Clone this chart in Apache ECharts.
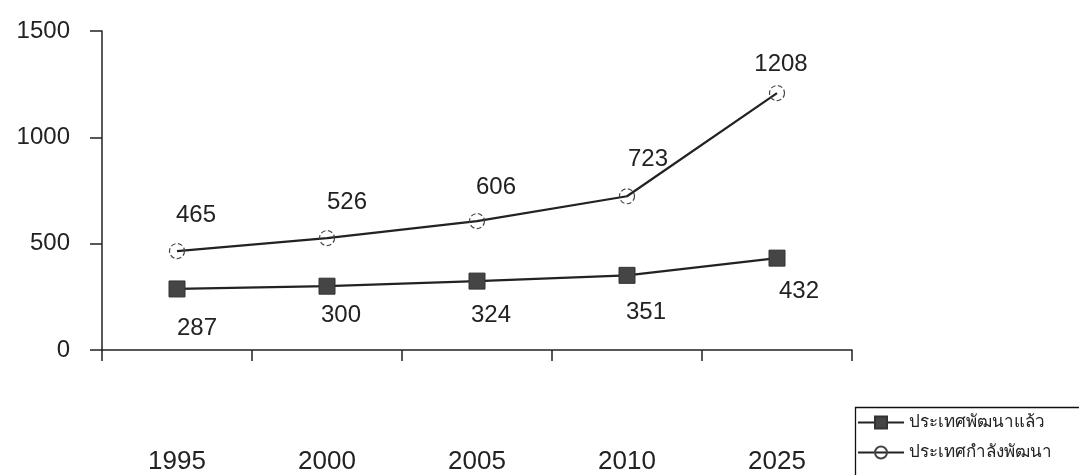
<!DOCTYPE html>
<html>
<head>
<meta charset="utf-8">
<script src="https://cdn.jsdelivr.net/npm/echarts@6/dist/echarts.min.js"></script>
<style>
  html, body { margin: 0; padding: 0; background: #fff; overflow: hidden; }
  #chart { width: 100vw; height: 100vh; }
</style>
</head>
<body>
<div id="chart"></div>
<script>
// Years on the horizontal axis
const years = ['1995', '2000', '2005', '2010', '2025'];
// Developed countries
const developedName = 'ประเทศพัฒนาแล้ว';
const developed = [287, 300, 324, 351, 432];
// Developing countries
const developingName = 'ประเทศกำลังพัฒนา';
const developing = [465, 526, 606, 723, 1208];
// Value axis ticks
const yMin = 0, yMax = 1500, yStep = 500;

// Label placement around each point (pixels from the point centre)
const developedLabelShift = [[20, 39], [14, 29], [14, 34], [19, 37], [22, 33]];
const developingLabelShift = [[19, -36], [20, -36], [19, -34], [21, -37], [4, -29]];

const numFont = 'Liberation Sans, Arial, Helvetica, sans-serif';
const ink = '#222';

function withLabels(values, shifts) {
  return values.map((v, i) => ({
    value: v,
    label: { offset: shifts[i] }
  }));
}

const chart = echarts.init(document.getElementById('chart'), null, { renderer: 'canvas' });
chart.setOption({
  backgroundColor: '#ffffff',
  animation: false,
  grid: { left: 102, right: 227, top: 31, bottom: 119, containLabel: false },
  // frame around the legend, running off the right and bottom edges
  graphic: [{
    type: 'rect',
    left: 853,
    top: 405,
    shape: { width: 320, height: 120 },
    style: { fill: 'none', stroke: '#111', lineWidth: 1.3 },
    silent: true
  }],
  legend: {
    left: 857,
    top: 414,
    orient: 'vertical',
    itemGap: 13,
    itemWidth: 46,
    itemHeight: 15,
    padding: 0,
    textStyle: { fontSize: 17, color: ink, fontFamily: 'Noto Sans, DejaVu Sans, sans-serif' },
    data: [developedName, developingName]
  },
  xAxis: {
    type: 'category',
    data: years,
    boundaryGap: true,
    axisLine: { lineStyle: { color: ink, width: 1.5 } },
    axisTick: { show: true, length: 11, lineStyle: { color: ink, width: 1.5 } },
    axisLabel: { margin: 99, fontSize: 26, color: ink, fontFamily: numFont },
    splitLine: { show: false }
  },
  yAxis: {
    type: 'value',
    min: yMin,
    max: yMax,
    interval: yStep,
    axisLine: { show: true, lineStyle: { color: ink, width: 1.5 } },
    axisTick: { show: true, length: 12, lineStyle: { color: ink, width: 1.5 } },
    axisLabel: {
      margin: 32,
      fontSize: 24,
      color: ink,
      fontFamily: numFont,
      formatter: (v) => String(v)
    },
    splitLine: { show: false }
  },
  series: [
    {
      name: developedName,
      type: 'line',
      data: withLabels(developed, developedLabelShift),
      symbol: 'rect',
      symbolSize: 16,
      lineStyle: { color: ink, width: 2.2 },
      itemStyle: { color: '#454545', borderColor: '#333', borderWidth: 1 },
      label: {
        show: true,
        position: 'inside',
        align: 'center',
        verticalAlign: 'middle',
        fontSize: 24,
        color: ink,
        fontFamily: numFont
      }
    },
    {
      name: developingName,
      type: 'line',
      data: withLabels(developing, developingLabelShift),
      symbol: 'circle',
      symbolSize: 15,
      lineStyle: { color: ink, width: 2.2 },
      itemStyle: { color: 'rgba(255,255,255,0)', borderColor: '#444', borderWidth: 1.2, borderType: 'dashed' },
      label: {
        show: true,
        position: 'inside',
        align: 'center',
        verticalAlign: 'middle',
        fontSize: 24,
        color: ink,
        fontFamily: numFont
      }
    }
  ]
});
</script>
</body>
</html>
